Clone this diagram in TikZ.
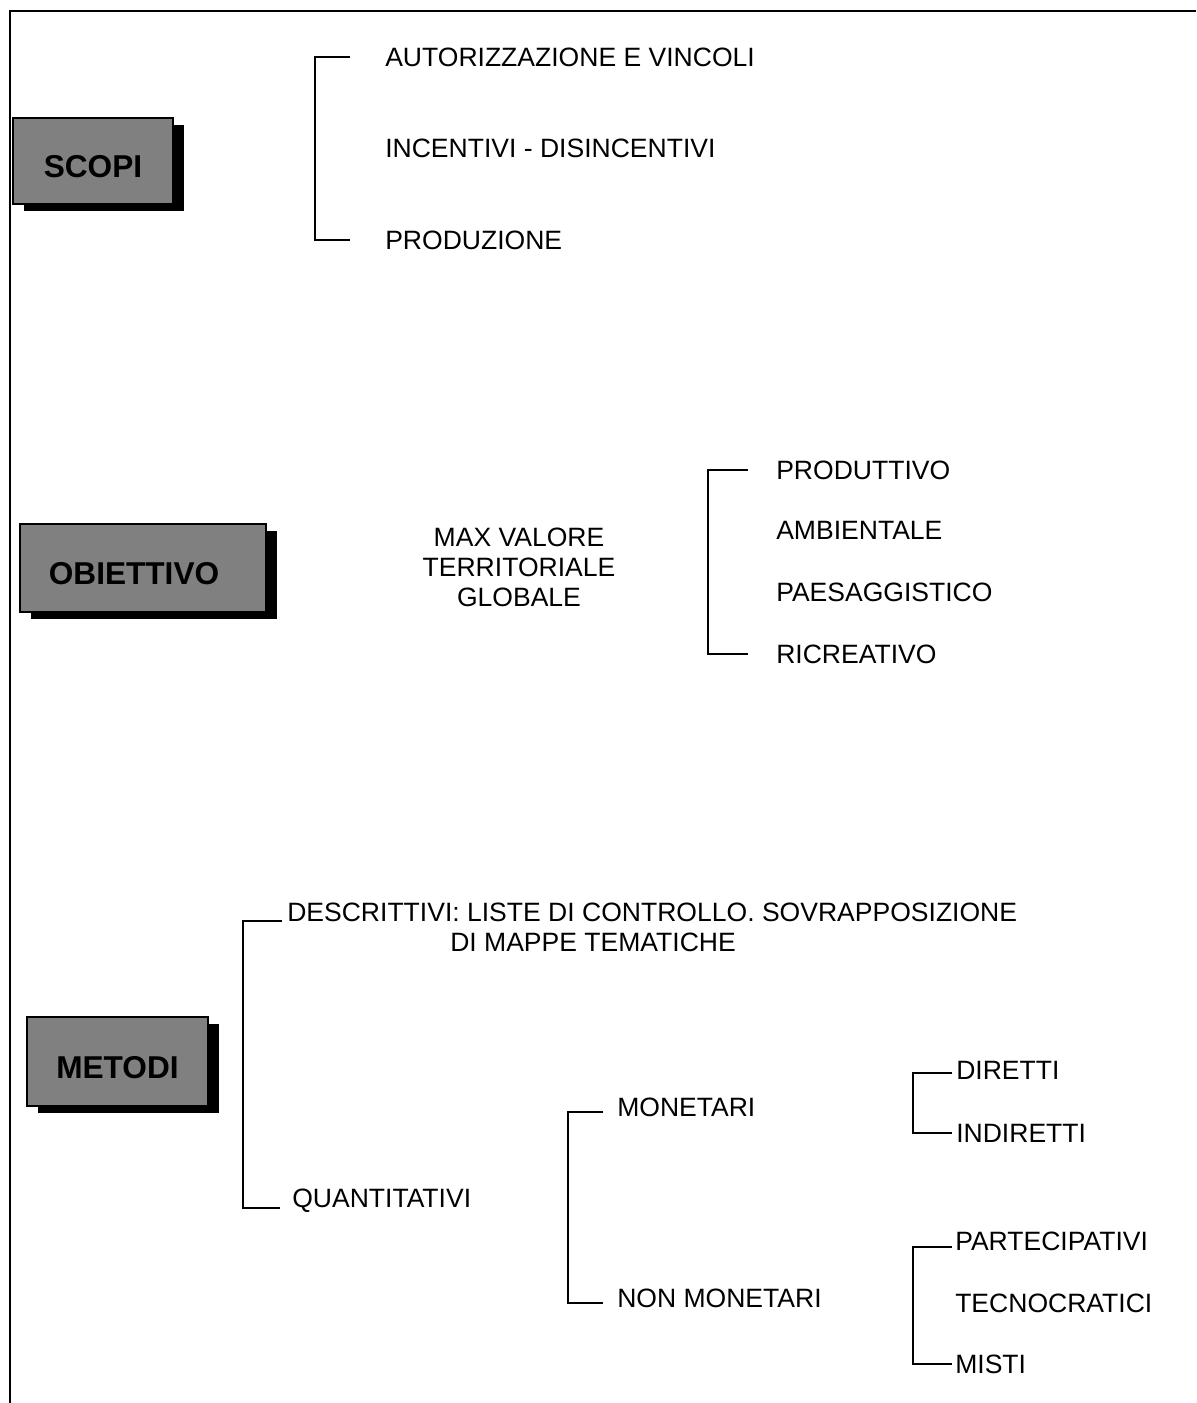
\documentclass[tikz,border=0pt]{standalone}
\usepackage{fontspec}
\setmainfont{Liberation Sans}
\usepackage{tikz}
\usetikzlibrary{positioning, calc, shadows}

\begin{document}
\begin{tikzpicture}[
x=0.75pt, y=-0.75pt,
txt/.style={
    font=\fontsize{19.9}{22.5}\selectfont,
    inner sep=0pt,
    anchor=west
    },
heading/.style={
    draw=black,
    line width=1.2pt,
    fill=gray,
    font=\bfseries\fontsize{23.7}{28}\selectfont,
    text height=25pt,
    text depth=0pt,
    inner sep=0pt,
    drop shadow={shadow xshift=8pt, shadow yshift=-5pt, fill=black, opacity=1}
    },
bracket/.style={
    line width=1.45pt
    }
]
\useasboundingbox (0,0) rectangle (1196,1403);

% frame
\draw[line width=1.6pt] (10,1403) -- (10,11) -- (1196,11);

% headings
\node[heading, minimum width=120pt, minimum height=64.5pt] (scopi) at (93,161) {SCOPI};
\node[heading, minimum width=184.5pt, minimum height=66pt] (obiettivo) at (143,568) {OBIETTIVO\hspace*{13.5pt}};
\node[heading, minimum width=135.75pt, minimum height=66.75pt] (metodi) at (117.5,1061.5) {METODI};

% scopi
\node[txt] (aut) at (385,57) {AUTORIZZAZIONE E VINCOLI};
\node[txt] (incent) at (385,148) {INCENTIVI - DISINCENTIVI};
\node[txt] (prod) at (385,240) {PRODUZIONE};

\draw[bracket] ([xshift=-26pt]aut.west) -- ++(-35,0) |- ([xshift=-26pt]prod.west);

% obiettivo
\node[txt, anchor=center, align=center] (maxval) at (519,567) {MAX VALORE\\TERRITORIALE\\GLOBALE};
\node[txt] (produt) at (776,470) {PRODUTTIVO};
\node[txt] (ambient) at (776,530) {AMBIENTALE};
\node[txt] (paesag) at (776,592) {PAESAGGISTICO};
\node[txt] (ricre) at (776,654) {RICREATIVO};

\draw[bracket] ([xshift=-21pt]produt.west) -- ++(-40,0) |- ([xshift=-21pt]ricre.west);

% metodi
\node[txt] (descr) at (287,912) {DESCRITTIVI: LISTE DI CONTROLLO. SOVRAPPOSIZIONE};
\node[txt] (descrb) at (450,942) {DI MAPPE TEMATICHE};
\node[txt] (quant) at (292,1201) {QUANTITATIVI};

\draw[bracket] ([xshift=-4pt]descr.base west) -- ++(-39,0) |- ([xshift=-9pt]quant.base west);

\node[txt] (mon) at (617,1107) {MONETARI};
\node[txt] (nonmon) at (617,1298) {NON MONETARI};

\draw[bracket] ([shift={(-14,5)}]mon.west) -- ++(-35,0) |- ([shift={(-14,5)}]nonmon.west);

\node[txt] (dir) at (956,1070) {DIRETTI};
\node[txt] (indir) at (956,1133) {INDIRETTI};

\draw[bracket] ([shift={(-4,3)}]dir.west) -- ++(-39,0) |- ([xshift=-3pt]indir.west);

\node[txt] (part) at (955,1241) {PARTECIPATIVI};
\node[txt] (tecno) at (955,1303) {TECNOCRATICI};
\node[txt] (misti) at (955,1364) {MISTI};

\draw[bracket] ([shift={(-3,6)}]part.west) -- ++(-39,0) |- ([xshift=-2pt]misti.west);

\end{tikzpicture}
\end{document}
